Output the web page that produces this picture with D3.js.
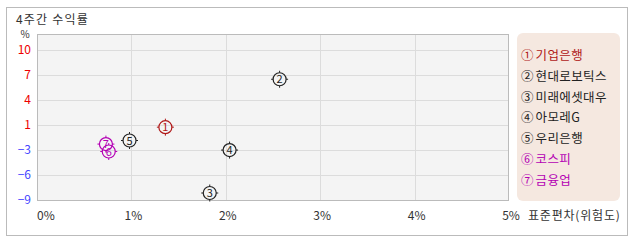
<!DOCTYPE html>
<html><head><meta charset="utf-8">
<script src="https://cdn.jsdelivr.net/npm/d3@7"></script>
<style>
html,body{margin:0;padding:0;background:#fff;}
text{font-family:"Noto Sans CJK KR","Noto Sans",sans-serif;}
</style></head>
<body><svg id="c" width="638" height="242"></svg>
<script>
// ---- data ----
const labels = ["기업은행","현대로보틱스","미래에셋대우","아모레G","우리은행","코스피","금융업"];
const markers = ["1","2","3","4","5","6","7"];
const circled = ["①","②","③","④","⑤","⑥","⑦"];
const stdDev = [1.36, 2.57, 1.83, 2.04, 0.98, 0.76, 0.73];   // x, %
const returns = [0.74, 6.49, -7.16, -2.01, -0.86, -2.18, -1.29]; // y, %
const yTickValues = [10, 7, 4, 1, -2, -5, -8];
const yTickLabels = ["10", "7", "4", "1", "\u22123", "\u22126", "\u22129"];
const xTickValues = [0, 1, 2, 3, 4, 5];
const xTickLabels = ["0%", "1%", "2%", "3%", "4%", "5%"];
const seriesColors = ["#b01818","#222","#222","#222","#222","#b400b4","#b400b4"];

const svg = d3.select("#c");
svg.append("rect").attr("x",6.5).attr("y",7.5).attr("width",621).attr("height",228)
  .attr("fill","#fff").attr("stroke","#bbb");
svg.append("text").attr("x",16).attr("y",24).attr("font-size",12).attr("letter-spacing",1.2)
  .attr("fill","#333").text("4주간 수익률");

const x = d3.scaleLinear().domain([0,5]).range([37,509]);
const y = d3.scaleLinear().domain([-8.12,11.92]).range([201,34]);

// plot background
svg.append("rect").attr("x",x(0)).attr("y",y(11.92)).attr("width",x(5)-x(0)).attr("height",y(-8.12)-y(11.92))
  .attr("fill","#f4f4f4");
// grid
svg.append("g").selectAll("line").data(yTickValues).join("line")
  .attr("x1",x(0)).attr("x2",x(5)).attr("y1",d=>Math.round(y(d))+0.5).attr("y2",d=>Math.round(y(d))+0.5)
  .attr("stroke","#dcdcdc");
svg.append("g").selectAll("line").data(xTickValues.slice(1,-1)).join("line")
  .attr("y1",y(11.92)).attr("y2",y(-8.12)).attr("x1",d=>Math.round(x(d))+0.5).attr("x2",d=>Math.round(x(d))+0.5)
  .attr("stroke","#dcdcdc");
svg.append("rect").attr("x",x(0)+0.5).attr("y",y(11.92)+0.5).attr("width",x(5)-x(0)-1).attr("height",y(-8.12)-y(11.92)-1)
  .attr("fill","none").attr("stroke","#bbb");

// y labels
svg.append("text").attr("x",25).attr("y",38).attr("font-size",10).attr("text-anchor","middle").attr("fill","#333").text("%");
svg.append("g").selectAll("text").data(yTickValues).join("text")
  .attr("x",31).attr("y",d=>y(d)+4).attr("text-anchor","end").attr("font-size",12)
  .attr("fill",(d,i)=>yTickLabels[i].startsWith("\u2212")?"#4646ff":"#ee0000")
  .text((d,i)=>yTickLabels[i]);
// x labels
svg.append("g").selectAll("text").data(xTickValues).join("text")
  .attr("x",d=>d===0?x(d):x(d)+2).attr("y",220).attr("font-size",12)
  .attr("text-anchor",d=>d===0?"start":"middle").attr("fill","#333")
  .text((d,i)=>xTickLabels[i]);
svg.append("text").attr("x",528).attr("y",220).attr("font-size",12).attr("letter-spacing",0.8)
  .attr("fill","#333").text("표준편차(위험도)");

// points
const pts = svg.append("g").selectAll("g").data(labels).join("g")
  .attr("transform",(d,i)=>`translate(${x(stdDev[i])},${y(returns[i])})`);
pts.append("circle").attr("r",6.5).attr("fill","none").attr("stroke",(d,i)=>seriesColors[i]).attr("stroke-width",1.2);
pts.each(function(d,i){
  const g=d3.select(this);
  [[0,-6.5,0,-8.5],[0,6.5,0,8.5],[-6.5,0,-8.5,0],[6.5,0,8.5,0]].forEach(s=>{
    g.append("line").attr("x1",s[0]).attr("y1",s[1]).attr("x2",s[2]).attr("y2",s[3]).attr("stroke",seriesColors[i]).attr("stroke-width",1);
  });
});
pts.append("text").attr("text-anchor","middle").attr("y",4).attr("font-size",11)
  .attr("fill",(d,i)=>seriesColors[i]).text((d,i)=>markers[i]);

// legend
svg.append("rect").attr("x",517).attr("y",33).attr("width",103).attr("height",168).attr("rx",6)
  .attr("fill","#f5e8e0");
const lt = svg.append("g").selectAll("text").data(labels).join("text")
  .attr("x",521).attr("y",(d,i)=>60+i*20.8).attr("font-size",12.5)
  .attr("fill",(d,i)=>seriesColors[i]);
lt.append("tspan").text((d,i)=>circled[i]);
lt.append("tspan").attr("dx",2).attr("letter-spacing",0.4).text(d=>d);
</script></body></html>
